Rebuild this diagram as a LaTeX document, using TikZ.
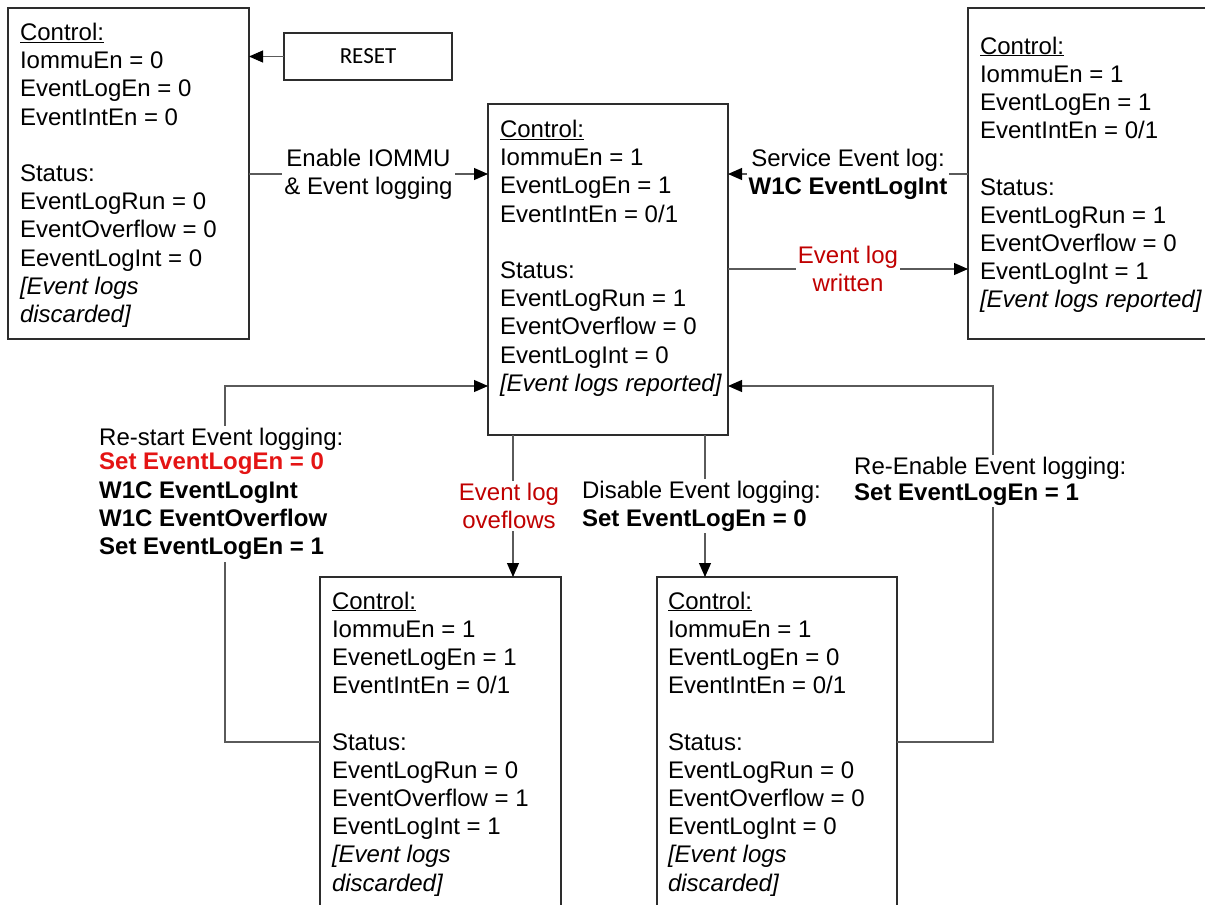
\documentclass[tikz,border=0pt]{standalone}
\usepackage{fontspec}
\setmainfont{Liberation Sans}
\newfontfamily\resetfont{Carlito}
\usetikzlibrary{arrows.meta}
\definecolor{linegray}{RGB}{90,90,90}
\definecolor{boxgray}{RGB}{45,45,45}
\definecolor{darkred}{RGB}{192,0,0}
\definecolor{brightred}{RGB}{228,20,20}
\newcommand\boxlines[1]{\vtop{\baselineskip=28.2pt\lineskiplimit=-100pt\lineskip=0pt\relax #1}}
\newcommand\rowtxt[1]{\hbox{#1}}
\newcommand\ctl{\setbox0\hbox{Control:}\rlap{\rule[-2.4pt]{\wd0}{1.1pt}}\box0}
\begin{document}
\begin{tikzpicture}[x=1pt,y=-1pt,
  every node/.style={font=\fontsize{24}{28.2}\selectfont},
  statebox/.style={draw=boxgray, line width=1.1pt, anchor=north west, inner sep=0pt, outer sep=0pt},
  txt/.style={anchor=base west, inner sep=0pt, outer sep=0pt},
  conn/.style={draw=linegray, line width=1.1pt},
  arr/.style={conn, -{Triangle[length=14pt,width=12pt,color=black]}},
  lbl/.style={fill=white, inner sep=2pt, align=center},
]
\useasboundingbox (0,0) rectangle (1205,905);
\clip (0,0) rectangle (1205,905);
\fill[white] (0,0) rectangle (1205,905);

% state boxes
\node[statebox, minimum width=241pt, minimum height=331pt] (A) at (8,8) {};
\node[statebox, minimum width=240pt, minimum height=331pt] (B) at (488,104) {};
\node[statebox, minimum width=260pt, minimum height=331pt] (C) at (968,8) {};
\node[statebox, minimum width=241pt, minimum height=350pt] (D) at (320,577) {};
\node[statebox, minimum width=240pt, minimum height=350pt] (E) at (657,577) {};
\node[statebox, minimum width=168pt, minimum height=47pt, font=\resetfont\fontsize{23}{27}\selectfont] (R) at (284,33) {RESET};

% box texts
\node[txt] (At) at (20,40.5) {\boxlines{\rowtxt{\ctl}\rowtxt{IommuEn = 0}\rowtxt{EventLogEn = 0}\rowtxt{EventIntEn = 0}\rowtxt{}\rowtxt{Status:}\rowtxt{EventLogRun = 0}\rowtxt{EventOverflow = 0}\rowtxt{EeventLogInt = 0}\rowtxt{\itshape [Event logs}\rowtxt{\itshape discarded]}}};
\node[txt] (Bt) at (500,137.5) {\boxlines{\rowtxt{\ctl}\rowtxt{IommuEn = 1}\rowtxt{EventLogEn = 1}\rowtxt{EventIntEn = 0/1}\rowtxt{}\rowtxt{Status:}\rowtxt{EventLogRun = 1}\rowtxt{EventOverflow = 0}\rowtxt{EventLogInt = 0}\rowtxt{\itshape [Event logs reported]}}};
\node[txt] (Ct) at (980,54) {\boxlines{\rowtxt{\ctl}\rowtxt{IommuEn = 1}\rowtxt{EventLogEn = 1}\rowtxt{EventIntEn = 0/1}\rowtxt{}\rowtxt{Status:}\rowtxt{EventLogRun = 1}\rowtxt{EventOverflow = 0}\rowtxt{EventLogInt = 1}\rowtxt{\itshape [Event logs reported]}}};
\node[txt] (Dt) at (332,609) {\boxlines{\rowtxt{\ctl}\rowtxt{IommuEn = 1}\rowtxt{EvenetLogEn = 1}\rowtxt{EventIntEn = 0/1}\rowtxt{}\rowtxt{Status:}\rowtxt{EventLogRun = 0}\rowtxt{EventOverflow = 1}\rowtxt{EventLogInt = 1}\rowtxt{\itshape [Event logs}\rowtxt{\itshape discarded]}}};
\node[txt] (Et) at (668,609) {\boxlines{\rowtxt{\ctl}\rowtxt{IommuEn = 1}\rowtxt{EventLogEn = 0}\rowtxt{EventIntEn = 0/1}\rowtxt{}\rowtxt{Status:}\rowtxt{EventLogRun = 0}\rowtxt{EventOverflow = 0}\rowtxt{EventLogInt = 0}\rowtxt{\itshape [Event logs}\rowtxt{\itshape discarded]}}};

% helper coordinates
\coordinate (yEn) at (0,174);
\coordinate (yWr) at (0,269);
\coordinate (yLp) at (0,386);
\coordinate (yBt) at (0,742);
\coordinate (xOv) at (513,0);
\coordinate (xDi) at (705,0);
\coordinate (xL) at (225,0);
\coordinate (xR) at (993,0);

% connectors
\draw[arr] (R.west) -- (A.east |- R.west);
\draw[arr] (A.east |- yEn) -- (B.west |- yEn)
  node[lbl, midway] (lEn) {Enable IOMMU\\\& Event logging};
\draw[arr] (C.west |- yEn) -- (B.east |- yEn)
  node[lbl, midway] (lSv) {Service Event log:\\\textbf{W1C EventLogInt}};
\draw[arr] (B.east |- yWr) -- (C.west |- yWr)
  node[lbl, midway, text=darkred] (lWr) {Event log\\written};
\draw[arr] (B.south -| xOv) -- (D.north -| xOv)
  node[lbl, midway, xshift=-4pt, text=darkred] (lOv) {Event log\\oveflows};
\draw[arr] (B.south -| xDi) -- (E.north -| xDi)
  node[lbl, midway, align=left, xshift=-3.5pt] (lDi) {Disable Event logging:\\\textbf{Set EventLogEn = 0}};
\draw[arr] (D.west |- yBt) -| (xL |- yLp) -- (B.west |- yLp);
\draw[arr] (E.east |- yBt) -| (xR |- yLp) -- (B.east |- yLp);

\node[lbl, align=left, anchor=west] (lRs) at (97,494) {Re-start Event logging:\\[-4pt]\textcolor{brightred}{\textbf{Set EventLogEn = 0}}\\\textbf{W1C EventLogInt}\\\textbf{W1C EventOverflow}\\\textbf{Set EventLogEn = 1}};
\node[lbl, align=left, anchor=west] (lRe) at (852,481) {Re-Enable Event logging:\\[-2pt]\textbf{Set EventLogEn = 1}};
\end{tikzpicture}
\end{document}
